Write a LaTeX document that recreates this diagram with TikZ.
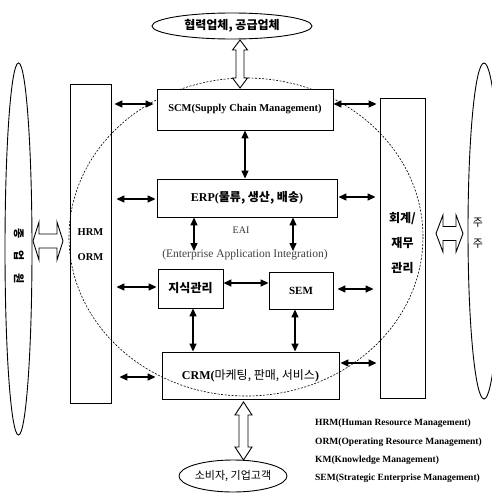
\documentclass[tikz,border=0pt]{standalone}
\usepackage{fontspec}
\setmainfont{Liberation Serif}
\newfontfamily\kr{Noto Sans CJK KR}
\usetikzlibrary{arrows.meta,shapes.geometric}
\newcommand\setfs[2]{\fontsize{#1}{#2}\selectfont}
\begin{document}
\begin{tikzpicture}[x=1pt,y=-1pt,
  box/.style={draw, line width=0.9pt, rectangle, inner sep=0pt},
  oval/.style={draw, line width=0.9pt, ellipse, inner sep=0pt},
  arr/.style={line width=1.4pt, {Triangle[length=8pt,width=7pt]}-{Triangle[length=8pt,width=7pt]}},
  hollow/.style={draw, line width=0.9pt, fill=white, line join=miter},
  txt/.style={inner sep=0pt},
  eai/.style={dash pattern=on 2pt off 1.5pt, line width=0.6pt}]
\useasboundingbox (0,0) rectangle (491,495);
\fill[white] (0,0) rectangle (491,495);

% outer ellipses
\node[oval, minimum width=160pt, minimum height=26pt, font=\kr\bfseries\setfs{12}{14}] (TOP) at (232,26) {협력업체, 공급업체};
\node[oval, minimum width=97pt, minimum height=32pt, font=\kr\setfs{11}{13}] (BOT) at (233,476) {소비자, 기업고객};
\node[oval, minimum width=27pt, minimum height=372pt] (EMP) at (18.5,249) {};
\node[oval, minimum width=32pt, minimum height=336pt] (SH) at (484,231) {};
\node[txt, rotate=-90, font=\kr\bfseries\setfs{11}{12}] (EMPt) at (19,256) {종\hspace{12pt}업\hspace{12pt}원};
\node[txt, align=center, font=\kr\setfs{11}{21}] (SHt) at (478,233) {주\\주};

% side boxes
\node[box, minimum width=41pt, minimum height=319pt] (HRM) at (90.5,243.5) {};
\node[txt, align=center, font=\bfseries\setfs{10.5}{25}] (HRMt) at (90.5,244.5) {HRM\\ORM};
\node[box, minimum width=45pt, minimum height=300pt] (FIN) at (402.5,248) {};
\node[txt, align=center, font=\kr\bfseries\setfs{12}{25}] (FINt) at (402.5,243) {회계/\\재무\\관리};

% dashed enterprise ellipse
\draw[eai] (246,237) ellipse [x radius=177, y radius=159];

% central boxes
\node[box, fill=white, minimum width=176pt, minimum height=41pt, font=\bfseries\setfs{10.5}{13}] (SCM) at (245,109.5) {SCM(Supply Chain Management)};
\node[box, fill=white, minimum width=180pt, minimum height=38pt, font=\bfseries\setfs{12}{14}] (ERP) at (247,198) {ERP({\kr\bfseries 물류, 생산, 배송})};
\node[box, fill=white, minimum width=65pt, minimum height=39pt, font=\kr\bfseries\setfs{12}{14}] (KM) at (190.5,288.5) {지식관리};
\node[box, fill=white, minimum width=64pt, minimum height=37pt, font=\bfseries\setfs{11}{13}] (SEM) at (301,290.5) {SEM};
\node[box, minimum width=177pt, minimum height=47pt, font=\bfseries\setfs{12}{14}] (CRM) at (250.5,375.5) {CRM({\kr\mdseries 마케팅, 판매, 서비스})};

\node[txt, font=\setfs{10}{11}, text=black!80] (EAI) at (241,230) {EAI};
\node[txt, font=\setfs{11.5}{13}, text=black!75] (EAIf) at (245,255) {(Enterprise Application Integration)};

% row coordinates
\coordinate (r1) at (0,104);
\coordinate (r2) at (0,199);
\coordinate (r3) at (0,287);
\coordinate (r4) at (0,377);
\coordinate (q2) at (0,197);
\coordinate (q3) at (0,289);
\coordinate (q4) at (0,363);
\coordinate (e1) at (194,251);
\coordinate (e2) at (293,251);
\coordinate (c1) at (193,0);
\coordinate (c2) at (295,0);

% left arrows
\draw[arr, shorten <=3pt, shorten >=3pt] (HRM.east |- r1) -- (SCM.west |- r1);
\draw[arr, shorten <=5pt, shorten >=1pt] (HRM.east |- r2) -- (ERP.west |- r2);
\draw[arr, shorten <=5pt, shorten >=1pt] (HRM.east |- r3) -- (KM.west |- r3);
\draw[arr, shorten <=8pt, shorten >=6pt] (HRM.east |- r4) -- (CRM.west |- r4);
% right arrows
\draw[arr, shorten <=0pt, shorten >=3pt] (SCM.east |- r1) -- (FIN.west |- r1);
\draw[arr, shorten <=1pt, shorten >=4pt] (ERP.east |- q2) -- (FIN.west |- q2);
\draw[arr, shorten <=4pt, shorten >=6pt] (SEM.east |- q3) -- (FIN.west |- q3);
\draw[arr, shorten <=1pt, shorten >=3pt] (CRM.east |- q4) -- (FIN.west |- q4);
% vertical arrows
\draw[arr] (SCM.south) -- (SCM.south |- ERP.north);
\draw[arr] (e1 |- ERP.south) -- (e1);
\draw[arr] (e2 |- ERP.south) -- (e2);
\draw[arr] (KM.east |- 0,283) -- (SEM.west |- 0,283);
\draw[arr] (c1 |- KM.south) -- (c1 |- CRM.north);
\draw[arr] (c2 |- SEM.south) -- (c2 |- CRM.north);

% hollow double arrows
\draw[hollow] (240,40) -- (247.5,50) -- (244,50) -- (244,78) -- (247.5,78) -- (240,88) -- (232.5,78) -- (236,78) -- (236,50) -- (232.5,50) -- cycle;
\draw[hollow] (243.5,402) -- (252,415) -- (248,415) -- (248,447) -- (252,447) -- (243.5,460) -- (235,447) -- (239,447) -- (239,415) -- (235,415) -- cycle;
\draw[hollow] (33,241) -- (39,222) -- (39,234) -- (57,234) -- (57,222) -- (63,241) -- (57,260) -- (57,248) -- (39,248) -- (39,260) -- cycle;
\draw[hollow] (436,233.5) -- (443,215) -- (443,226.5) -- (456,226.5) -- (456,215) -- (463,233.5) -- (456,252) -- (456,240.5) -- (443,240.5) -- (443,252) -- cycle;

% legend
\begin{scope}[every node/.style={txt, anchor=west, font=\bfseries\setfs{9.5}{12}}]
\node (L1) at (315,423) {HRM(Human Resource Management)};
\node (L2) at (315,442) {ORM(Operating Resource Management)};
\node (L3) at (315,460) {KM(Knowledge Management)};
\node (L4) at (315,478) {SEM(Strategic Enterprise Management)};
\end{scope}
\end{tikzpicture}
\end{document}
